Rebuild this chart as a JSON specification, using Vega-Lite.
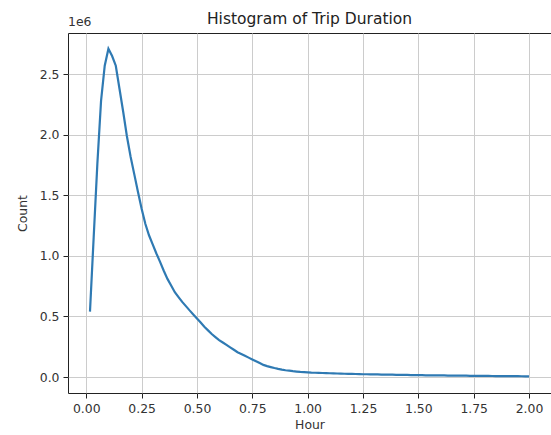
{
  "$schema": "https://vega.github.io/schema/vega-lite/v6.json",
  "autosize": {"type": "none"},
  "padding": {"left": 68, "top": 33, "right": 0, "bottom": 42},
  "width": 483,
  "height": 360,
  "background": "white",
  "config": {
    "font": "DejaVu Sans",
    "view": {"stroke": "#222222", "strokeWidth": 1},
    "axis": {
      "domain": false,
      "grid": true,
      "gridColor": "#cccccc",
      "gridWidth": 1,
      "tickColor": "#222222",
      "tickSize": 5,
      "labelFont": "DejaVu Sans",
      "labelFontSize": 12.4,
      "labelColor": "#333333",
      "labelPadding": 4,
      "titleFont": "DejaVu Sans",
      "titleFontSize": 12.4,
      "titleFontWeight": "normal",
      "titleColor": "#333333"
    }
  },
  "title": {
    "text": "Histogram of Trip Duration",
    "font": "DejaVu Sans",
    "fontSize": 15.5,
    "fontWeight": "normal",
    "color": "#222222",
    "anchor": "middle",
    "offset": 8,
    "dy": 19
  },
  "data": {
    "values": [
      {"hour": 0.0167, "count": 540000},
      {"hour": 0.0333, "count": 1150000},
      {"hour": 0.05, "count": 1760000},
      {"hour": 0.0667, "count": 2280000},
      {"hour": 0.0833, "count": 2570000},
      {"hour": 0.1, "count": 2710000},
      {"hour": 0.1167, "count": 2650000},
      {"hour": 0.1333, "count": 2570000},
      {"hour": 0.15, "count": 2380000},
      {"hour": 0.1667, "count": 2190000},
      {"hour": 0.1833, "count": 1990000},
      {"hour": 0.2, "count": 1820000},
      {"hour": 0.2167, "count": 1675000},
      {"hour": 0.2333, "count": 1530000},
      {"hour": 0.25, "count": 1390000},
      {"hour": 0.2667, "count": 1265000},
      {"hour": 0.2833, "count": 1170000},
      {"hour": 0.3, "count": 1095000},
      {"hour": 0.3167, "count": 1020000},
      {"hour": 0.3333, "count": 950000},
      {"hour": 0.35, "count": 877000},
      {"hour": 0.3667, "count": 810000},
      {"hour": 0.3833, "count": 755000},
      {"hour": 0.4, "count": 700000},
      {"hour": 0.4167, "count": 660000},
      {"hour": 0.4333, "count": 620000},
      {"hour": 0.45, "count": 585000},
      {"hour": 0.4667, "count": 550000},
      {"hour": 0.4833, "count": 517000},
      {"hour": 0.5, "count": 483000},
      {"hour": 0.5167, "count": 450000},
      {"hour": 0.5333, "count": 415000},
      {"hour": 0.55, "count": 385000},
      {"hour": 0.5667, "count": 355000},
      {"hour": 0.5833, "count": 330000},
      {"hour": 0.6, "count": 305000},
      {"hour": 0.6167, "count": 285000},
      {"hour": 0.6333, "count": 265000},
      {"hour": 0.65, "count": 245000},
      {"hour": 0.6667, "count": 225000},
      {"hour": 0.6833, "count": 205000},
      {"hour": 0.7, "count": 190000},
      {"hour": 0.7167, "count": 175000},
      {"hour": 0.7333, "count": 160000},
      {"hour": 0.75, "count": 145000},
      {"hour": 0.7667, "count": 130000},
      {"hour": 0.7833, "count": 115000},
      {"hour": 0.8, "count": 100000},
      {"hour": 0.8167, "count": 90000},
      {"hour": 0.8333, "count": 82000},
      {"hour": 0.85, "count": 74000},
      {"hour": 0.8667, "count": 67000},
      {"hour": 0.8833, "count": 61000},
      {"hour": 0.9, "count": 56000},
      {"hour": 0.9167, "count": 52000},
      {"hour": 0.9333, "count": 48000},
      {"hour": 0.95, "count": 45000},
      {"hour": 0.9667, "count": 42000},
      {"hour": 0.9833, "count": 40000},
      {"hour": 1.0, "count": 38000},
      {"hour": 1.0167, "count": 36000},
      {"hour": 1.0333, "count": 35000},
      {"hour": 1.05, "count": 34000},
      {"hour": 1.0667, "count": 33000},
      {"hour": 1.0833, "count": 32000},
      {"hour": 1.1, "count": 31000},
      {"hour": 1.1167, "count": 30000},
      {"hour": 1.1333, "count": 29000},
      {"hour": 1.15, "count": 28000},
      {"hour": 1.1667, "count": 27000},
      {"hour": 1.1833, "count": 26000},
      {"hour": 1.2, "count": 26000},
      {"hour": 1.2167, "count": 25000},
      {"hour": 1.2333, "count": 24000},
      {"hour": 1.25, "count": 23000},
      {"hour": 1.2667, "count": 23000},
      {"hour": 1.2833, "count": 22000},
      {"hour": 1.3, "count": 21000},
      {"hour": 1.3167, "count": 21000},
      {"hour": 1.3333, "count": 20000},
      {"hour": 1.35, "count": 20000},
      {"hour": 1.3667, "count": 19000},
      {"hour": 1.3833, "count": 19000},
      {"hour": 1.4, "count": 18000},
      {"hour": 1.4167, "count": 18000},
      {"hour": 1.4333, "count": 17000},
      {"hour": 1.45, "count": 17000},
      {"hour": 1.4667, "count": 16000},
      {"hour": 1.4833, "count": 16000},
      {"hour": 1.5, "count": 15000},
      {"hour": 1.5167, "count": 15000},
      {"hour": 1.5333, "count": 14000},
      {"hour": 1.55, "count": 14000},
      {"hour": 1.5667, "count": 14000},
      {"hour": 1.5833, "count": 13000},
      {"hour": 1.6, "count": 13000},
      {"hour": 1.6167, "count": 13000},
      {"hour": 1.6333, "count": 12000},
      {"hour": 1.65, "count": 12000},
      {"hour": 1.6667, "count": 12000},
      {"hour": 1.6833, "count": 11000},
      {"hour": 1.7, "count": 11000},
      {"hour": 1.7167, "count": 11000},
      {"hour": 1.7333, "count": 10000},
      {"hour": 1.75, "count": 10000},
      {"hour": 1.7667, "count": 10000},
      {"hour": 1.7833, "count": 9500},
      {"hour": 1.8, "count": 9000},
      {"hour": 1.8167, "count": 9000},
      {"hour": 1.8333, "count": 8500},
      {"hour": 1.85, "count": 8000},
      {"hour": 1.8667, "count": 8000},
      {"hour": 1.8833, "count": 7500},
      {"hour": 1.9, "count": 7200},
      {"hour": 1.9167, "count": 7000},
      {"hour": 1.9333, "count": 6800},
      {"hour": 1.95, "count": 6500},
      {"hour": 1.9667, "count": 6200},
      {"hour": 1.9833, "count": 6000},
      {"hour": 2.0, "count": 5800}
    ]
  },
  "layer": [
    {
      "mark": {"type": "line", "color": "#2f7ab3", "strokeWidth": 2.2, "clip": true},
      "encoding": {
        "x": {
          "field": "hour",
          "type": "quantitative",
          "title": "Hour",
          "scale": {"domain": [-0.0826, 2.0993], "nice": false, "zero": false},
          "axis": {"values": [0, 0.25, 0.5, 0.75, 1, 1.25, 1.5, 1.75, 2], "format": ".2f", "titlePadding": 4}
        },
        "y": {
          "field": "count",
          "type": "quantitative",
          "title": "Count",
          "scale": {"domain": [-132000, 2840000], "nice": false, "zero": false},
          "axis": {
            "values": [0, 500000, 1000000, 1500000, 2000000, 2500000],
            "labelExpr": "format(datum.value / 1000000, '.1f')",
            "titlePadding": 10
          }
        }
      }
    },
    {
      "data": {"values": [{"label": "1e6", "hx": -0.0826, "cy": 2840000}]},
      "mark": {"type": "text", "align": "left", "baseline": "bottom", "dy": -4, "fontSize": 12.4, "color": "#333333", "font": "DejaVu Sans", "clip": false},
      "encoding": {
        "x": {"field": "hx", "type": "quantitative"},
        "y": {"field": "cy", "type": "quantitative"},
        "text": {"field": "label"}
      }
    }
  ]
}
